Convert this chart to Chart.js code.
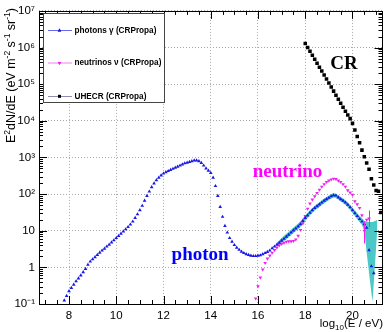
<!DOCTYPE html>
<html><head><meta charset="utf-8">
<script src="https://cdn.jsdelivr.net/npm/chart.js@4/dist/chart.umd.min.js"></script>
<style>html,body{margin:0;padding:0;background:#fff;overflow:hidden}</style>
</head><body><canvas id="c" width="385" height="332"></canvas>
<script>
// ---- data: x = log10(E/eV), values = log10(E^2 dN/dE)
const photonLogE = [7.8,7.9,8.0,8.1,8.2,8.3,8.4,8.5,8.6,8.7,8.8,8.9,9.0,9.1,9.2,9.3,9.4,9.5,9.6,9.7,9.8,9.9,10.0,10.1,10.2,10.3,10.4,10.5,10.6,10.7,10.8,10.9,11.0,11.1,11.2,11.3,11.4,11.5,11.6,11.7,11.8,11.9,12.0,12.1,12.2,12.3,12.4,12.5,12.6,12.7,12.8,12.9,13.0,13.1,13.2,13.3,13.4,13.5,13.6,13.7,13.8,13.9,14.0,14.1,14.2,14.3,14.4,14.5,14.6,14.7,14.8,14.9,15.0,15.1,15.2,15.3,15.4,15.5,15.6,15.7,15.8,15.9,16.0,16.1,16.2,16.3,16.4,16.5,16.6,16.7,16.8,16.9,17.0,17.1,17.2,17.3,17.4,17.5,17.6,17.7,17.8,17.9,18.0,18.1,18.2,18.3,18.4,18.5,18.6,18.7,18.8,18.9,19.0,19.1,19.2,19.3,19.4,19.5,19.6,19.7,19.8,19.9,20.0,20.1,20.2,20.3,20.4,20.5,20.6,20.7,20.8,20.9];
const photonLogFlux = [-0.90,-0.78,-0.65,-0.56,-0.47,-0.38,-0.30,-0.22,-0.13,-0.04,
 0.07,0.16,0.22,0.28,0.34,0.40,0.46,0.51,0.57,0.62,
 0.68,0.74,0.80,0.86,0.92,0.98,1.04,1.10,1.17,1.25,
 1.35,1.45,1.56,1.68,1.82,1.95,2.07,2.19,2.29,2.38,
 2.45,2.51,2.56,2.60,2.63,2.66,2.69,2.72,2.75,2.78,
 2.81,2.84,2.86,2.88,2.90,2.92,2.92,2.90,2.85,2.78,
 2.70,2.64,2.58,2.45,2.22,1.95,1.65,1.38,1.13,0.95,
 0.80,0.70,0.61,0.54,0.48,0.43,0.39,0.36,0.34,0.32,
 0.31,0.31,0.32,0.33,0.36,0.39,0.42,0.46,0.52,0.57,
 0.62,0.67,0.73,0.78,0.84,0.89,0.95,1.01,1.06,1.12,
 1.18,1.27,1.35,1.42,1.49,1.56,1.62,1.67,1.72,1.77,
 1.82,1.86,1.90,1.94,1.97,1.96,1.91,1.86,1.82,1.77,
 1.71,1.64,1.56,1.48,1.40,1.32,1.25,1.18,1.08,0.47,
 0.03,-0.16];

const neutrinoLogE = [15.9,16.0,16.1,16.2,16.3,16.4,16.5,16.6,16.7,16.8,16.9,17.0,17.1,17.2,17.3,17.4,17.5,17.6,17.7,17.8,17.9,18.0,18.1,18.2,18.3,18.4,18.5,18.6,18.7,18.8,18.9,19.0,19.1,19.2,19.3,19.4,19.5,19.6,19.7,19.8,19.9,20.0,20.1,20.2,20.3,20.4,20.5,20.6,20.7];
const neutrinoLogFlux = [-0.85,-0.52,-0.28,-0.06,0.12,0.24,0.32,0.40,0.47,0.54,
 0.60,0.64,0.67,0.70,0.71,0.71,0.72,0.76,0.86,1.02,
 1.20,1.40,1.60,1.74,1.85,1.94,2.03,2.12,2.20,2.27,
 2.33,2.37,2.40,2.42,2.41,2.37,2.33,2.27,2.20,2.10,
 2.04,1.98,1.80,1.72,1.62,1.42,1.00,1.30,1.33];
const neutrinoErrLogE = [20.5, 20.7];
const neutrinoErrLo = [0.65, 1.10];
const neutrinoErrHi = [1.25, 1.55];

const crLogE = [18.0,18.1,18.2,18.3,18.4,18.5,18.6,18.7,18.8,18.9,19.0,19.1,19.2,19.3,19.4,19.5,19.6,19.7,19.8,19.9,20.0,20.1,20.2,20.3,20.4,20.5,20.6,20.7,20.8,20.9,21.0,21.1,21.2];
const crLogFlux = [6.11,6.00,5.90,5.79,5.68,5.57,5.46,5.36,5.25,5.14,
 5.03,4.92,4.81,4.70,4.59,4.48,4.37,4.26,4.16,4.06,
 3.93,3.75,3.57,3.40,3.20,3.02,2.85,2.68,2.42,2.25,
 2.10,2.08,1.50];

const bandLogE = [16.8,16.9,17.0,17.1,17.2,17.3,17.4,17.5,17.6,17.7,17.8,17.9,18.0,18.1,18.2,18.3,18.4,18.5,18.6,18.7,18.8,18.9,19.0,19.1,19.2,19.3,19.4,19.5,19.6,19.7,19.8,19.9,20.0,20.1,20.2,20.3,20.4,20.5,20.6,20.7,20.8,20.85,20.9,21.0,21.05];
const bandLogLo = [0.57,0.62,0.67,0.72,0.77,0.82,0.88,0.94,0.99,1.05,1.11,1.19,1.27,1.35,1.42,1.49,1.55,1.60,1.65,1.70,1.75,1.79,1.84,1.88,1.91,1.90,1.85,1.80,1.76,1.70,1.64,1.57,1.49,1.40,1.32,1.24,1.16,1.00,0.40,-0.15,-0.70,-0.93,-0.45,0.55,1.05];
const bandLogHi = [0.68,0.74,0.80,0.86,0.92,0.97,1.03,1.09,1.14,1.20,1.26,1.34,1.42,1.49,1.56,1.62,1.68,1.73,1.78,1.83,1.88,1.92,1.96,2.00,2.02,2.01,1.97,1.92,1.88,1.83,1.77,1.70,1.63,1.55,1.48,1.41,1.34,1.27,1.25,1.24,1.24,1.24,1.25,1.28,1.30];

const yTickValues = [0.1,1,10,1e2,1e3,1e4,1e5,1e6,1e7];
const yTickLabels = ['10\u207B\u00B9','1','10','10\u00B2','10\u00B3','10\u2074','10\u2075','10\u2076','10\u2077'];
const xTickValues = [8,10,12,14,16,18,20];

const annotations = [
  {text:'CR', x:19.64, y:5.42, color:'#000000'},
  {text:'neutrino', x:17.25, y:2.48, color:'#ff00ff'},
  {text:'photon', x:13.55, y:0.20, color:'#0000ff'}
];

// ---- helpers
const pts = (xs, ys) => xs.map((x,i)=>({x, y: Math.pow(10, ys[i])}));
const PHOTON = '#1717e6', NEUTRINO = '#ee22ee', CRCOL = '#000000', BAND = 'rgb(76,200,198)';

const datasets = [
  {label:'photons \u03B3 (CRPropa)', data:pts(photonLogE, photonLogFlux), showLine:false,
   pointStyle:'triangle', pointRadius:2.1, pointHoverRadius:2.1, backgroundColor:PHOTON, borderColor:PHOTON, borderWidth:0,
   order:1, legendLine:'#6a6ae8'},
  {label:'neutrinos \u03BD (CRPropa)', data:pts(neutrinoLogE, neutrinoLogFlux), showLine:false,
   pointStyle:'triangle', rotation:180, pointRadius:2.1, pointHoverRadius:2.1, backgroundColor:NEUTRINO, borderColor:NEUTRINO, borderWidth:0,
   order:2, legendLine:'#f080f0'},
  {label:'UHECR (CRPropa)', data:pts(crLogE, crLogFlux), showLine:false,
   pointStyle:'rect', pointRadius:2.5, pointHoverRadius:2.5, backgroundColor:CRCOL, borderColor:CRCOL, borderWidth:0,
   order:3, legendLine:'#8c8cb4'},
  {label:'band lo', data:pts(bandLogE, bandLogLo), showLine:true, pointRadius:0, borderWidth:0, borderColor:BAND,
   backgroundColor:BAND, fill:false, order:10, noLegend:true},
  {label:'band hi', data:pts(bandLogE, bandLogHi), showLine:true, pointRadius:0, borderWidth:0, borderColor:BAND,
   backgroundColor:BAND, fill:'-1', order:9, noLegend:true}
];

const SANS = '"Liberation Sans", Arial, Helvetica, sans-serif';
const SERIF = '"Liberation Serif", "Times New Roman", serif';

const decor = {
  id:'decor',
  afterDatasetsDraw(chart){
    const ctx = chart.ctx, a = chart.chartArea;
    const xs = chart.scales.x, ys = chart.scales.y;
    ctx.save();
    // error bars
    ctx.strokeStyle = NEUTRINO; ctx.lineWidth = 1;
    neutrinoErrLogE.forEach((e,i)=>{
      const px = Math.round(xs.getPixelForValue(e))+0.5;
      ctx.beginPath();
      ctx.moveTo(px, ys.getPixelForValue(Math.pow(10,neutrinoErrLo[i])));
      ctx.lineTo(px, ys.getPixelForValue(Math.pow(10,neutrinoErrHi[i])));
      ctx.stroke();
    });
    // frame
    ctx.strokeStyle = '#000'; ctx.lineWidth = 1;
    ctx.strokeRect(Math.round(a.left)+0.5, Math.round(a.top)+0.5, Math.round(a.right-a.left)-1, Math.round(a.bottom-a.top));
    // ticks
    ctx.beginPath();
    for(let i=14;i<=42;i++){
      const v=i/2; if(v<xs.min||v>xs.max) continue;
      const px = Math.round(xs.getPixelForValue(v))+0.5;
      const len = (v%2===0)?8:4;
      ctx.moveTo(px,a.bottom); ctx.lineTo(px,a.bottom-len);
      ctx.moveTo(px,a.top); ctx.lineTo(px,a.top+len);
    }
    for(let e=-1;e<=7;e++){
      for(let m=1;m<=9;m++){
        const v=m*Math.pow(10,e); if(v>1e7*1.0001) continue;
        const py = Math.round(ys.getPixelForValue(v))+0.5;
        const len = (m===1)?8:4;
        ctx.moveTo(a.left,py); ctx.lineTo(a.left+len,py);
        ctx.moveTo(a.right,py); ctx.lineTo(a.right-len,py);
      }
    }
    ctx.stroke();
    // legend
    const L={x:43.5,y:13.5,w:121,h:89};
    ctx.fillStyle='#fff'; ctx.fillRect(L.x,L.y,L.w,L.h);
    ctx.strokeStyle='#444'; ctx.strokeRect(L.x,L.y,L.w,L.h);
    const rows=[30,62.5,96];
    let r=0;
    chart.data.datasets.forEach((ds)=>{
      if(ds.noLegend) return;
      const y=rows[r++];
      ctx.strokeStyle=ds.legendLine; ctx.lineWidth=1;
      ctx.beginPath(); ctx.moveTo(48,y+0.5); ctx.lineTo(72,y+0.5); ctx.stroke();
      ctx.fillStyle=ds.backgroundColor;
      if(ds.pointStyle==='rect'){ ctx.fillRect(58,y-1.2,3,3); }
      else { Chart.helpers.drawPoint(ctx,{pointStyle:'triangle',rotation:ds.rotation||0,radius:2,borderWidth:0},59.5,y+0.5); ctx.fill(); }
      ctx.fillStyle='#000'; ctx.font='bold 8.2px '+SANS; ctx.textBaseline='middle'; ctx.textAlign='left';
      ctx.fillText(ds.label,74.5,y+0.5);
    });
    // annotations
    ctx.font='bold 19px '+SERIF; ctx.textAlign='center'; ctx.textBaseline='alphabetic';
    annotations.forEach(an=>{
      ctx.fillStyle=an.color;
      ctx.fillText(an.text, xs.getPixelForValue(an.x), ys.getPixelForValue(Math.pow(10,an.y)));
    });
    // y title (rotated, rich text)
    const parts=[['E',0],['2',1],['dN/dE (eV m',0],['-2',1],[' s',0],['-1',1],[' sr',0],['-1',1],[')',0]];
    const fB='12.5px '+SANS, fS='8.5px '+SANS;
    let tot=0; parts.forEach(p=>{ctx.font=p[1]?fS:fB; tot+=ctx.measureText(p[0]).width;});
    ctx.translate(14.5, 8+tot); ctx.rotate(-Math.PI/2);
    ctx.fillStyle='#000'; ctx.textAlign='left'; ctx.textBaseline='alphabetic';
    let cx=0; parts.forEach(p=>{ctx.font=p[1]?fS:fB; ctx.fillText(p[0],cx,p[1]?-5:0); cx+=ctx.measureText(p[0]).width;});
    ctx.setTransform(1,0,0,1,0,0);
    // x title
    const xp=[['log',0],['10',1],['(E / eV)',0]];
    const gB='11.5px '+SANS, gS='8px '+SANS;
    tot=0; xp.forEach(p=>{ctx.font=p[1]?gS:gB; tot+=ctx.measureText(p[0]).width;});
    cx=383-tot; xp.forEach(p=>{ctx.font=p[1]?gS:gB; ctx.fillText(p[0],cx,p[1]?330:326.5); cx+=ctx.measureText(p[0]).width;});
    ctx.restore();
  }
};

new Chart(document.getElementById('c'), {
  type:'line',
  data:{datasets},
  options:{
    responsive:false, animation:false, devicePixelRatio:1,
    layout:{padding:{left:0,right:2.5,top:10,bottom:0}},
    plugins:{legend:{display:false}, tooltip:{enabled:false}},
    scales:{
      x:{type:'linear', min:6.73, max:21.27,
         afterBuildTicks:(s)=>{s.ticks=xTickValues.map(v=>({value:v}));},
         afterFit:(s)=>{s.height=28;},
         grid:{color:'#a8a8a8', drawTicks:false, lineWidth:1},
         border:{display:false, dash:[1,2]},
         ticks:{padding:5, color:'#000', font:{family:SANS, size:11.5}, maxRotation:0, autoSkip:false}},
      y:{type:'logarithmic', min:0.1, max:1e7,
         afterBuildTicks:(s)=>{s.ticks=yTickValues.map(v=>({value:v}));},
         afterFit:(s)=>{s.width=39;},
         grid:{color:'#a8a8a8', drawTicks:false, lineWidth:1},
         border:{display:false, dash:[1,2]},
         ticks:{padding:4, color:'#000', font:{family:SANS, size:11.5}, autoSkip:false,
           callback:(v)=>{const i=yTickValues.findIndex(t=>Math.abs(t-v)/t<1e-6); return i>=0?yTickLabels[i]:'';}}}
    }
  },
  plugins:[decor]
});
</script></body></html>
